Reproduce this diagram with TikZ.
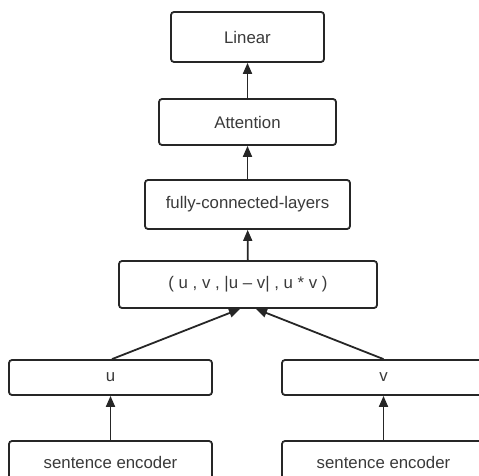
\documentclass[tikz,border=0pt]{standalone}
\usepackage{fontspec}
\setmainfont{Liberation Sans}
\usetikzlibrary{arrows.meta}
\definecolor{inkgray}{HTML}{262626}
\definecolor{textgray}{HTML}{3A3A3A}
\tikzset{
  layer/.style={draw=inkgray, line width=1.8pt, rounded corners=3pt, fill=white,
    text=textgray, font=\fontsize{16.8}{19}\selectfont, inner sep=0pt},
  flow/.style={draw=inkgray, line width=1.8pt, -{Triangle[length=11pt,width=9pt]}}
}
\begin{document}
\begin{tikzpicture}[x=1pt, y=-1pt]
  \useasboundingbox (0,0) rectangle (479,476);
  \clip (0,0) rectangle (479,476);
  % la parte de arriba, una sobre otra
  \node[layer, minimum width=153pt, minimum height=50pt] (linear) at (247.5,37) {Linear};
  \node[layer, minimum width=177pt, minimum height=46pt] (attn) at (247.5,122) {Attention};
  \node[layer, minimum width=205pt, minimum height=49pt] (fcl) at (247.5,204.5) {fully-connected-layers};
  \node[layer, minimum width=258pt, minimum height=47pt] (comb) at (248,284.5) {( u , v , |u -- v| , u * v )};
  % las dos ramas
  \node[layer, minimum width=203pt, minimum height=35pt] (u) at (110.5,377.5) {u};
  \node[layer, minimum width=203pt, minimum height=35pt] (v) at (383.5,377.5) {v};
  \node[layer, minimum width=203pt, minimum height=42pt] (encu) at (110.5,462) {sentence encoder};
  \node[layer, minimum width=203pt, minimum height=42pt] (encv) at (383.5,462) {sentence encoder};
  % las flechas, de abajo arriba
  \draw[flow] (encu) -- (u);
  \draw[flow] (encv) -- (v);
  \draw[flow] ([xshift=1.5pt]u.north) -- ([xshift=-8pt]comb.south);
  \draw[flow] (v.north) -- ([xshift=8pt]comb.south);
  \draw[flow] (comb) -- (fcl);
  \draw[flow] (fcl) -- (attn);
  \draw[flow] (attn) -- (linear);
\end{tikzpicture}
\end{document}
